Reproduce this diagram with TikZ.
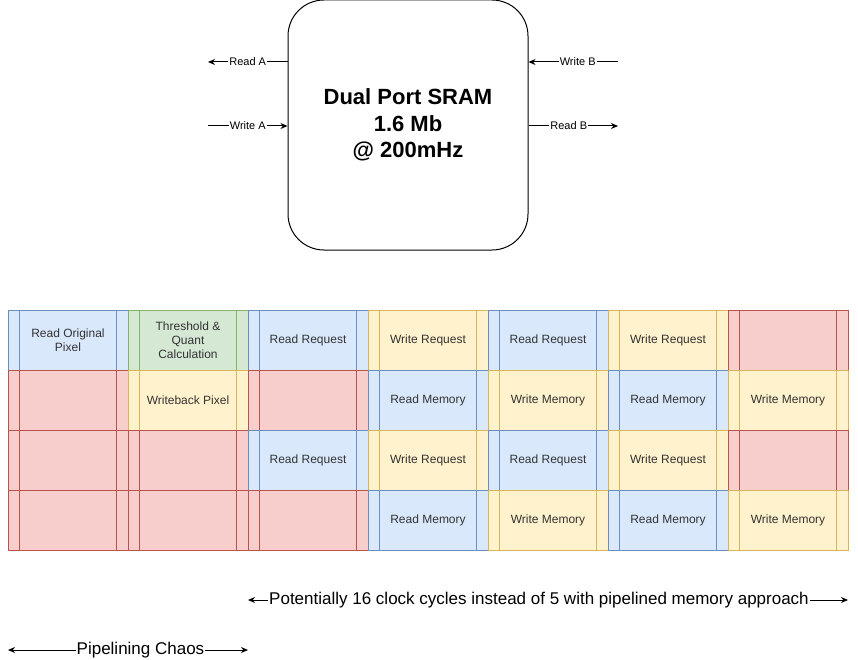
\documentclass[tikz,border=0pt]{standalone}
\usepackage{fontspec}
\setmainfont{Liberation Sans}
\usetikzlibrary{arrows.meta}
\definecolor{bfill}{HTML}{DAE8FC}\definecolor{bdraw}{HTML}{6C8EBF}
\definecolor{gfill}{HTML}{D5E8D4}\definecolor{gdraw}{HTML}{82B366}
\definecolor{yfill}{HTML}{FFF2CC}\definecolor{ydraw}{HTML}{D6B656}
\definecolor{rfill}{HTML}{F8CECC}\definecolor{rdraw}{HTML}{B85450}
\definecolor{txt}{HTML}{333333}
\newcommand\pcell[5]{%
  \node[proc,fill=#4fill,draw=#4draw] (#1) at (#2,#3) {#5};
  \draw[draw=#4draw,line width=1pt] ([xshift=12pt]#1.north west) -- ([xshift=12pt]#1.south west)
    ([xshift=-12pt]#1.north east) -- ([xshift=-12pt]#1.south east);}
\begin{document}
\begin{tikzpicture}[x=1pt,y=-1pt,
  proc/.style={rectangle,line width=1pt,minimum width=120pt,minimum height=60pt,inner sep=0pt,align=center,font=\fontsize{12}{14}\selectfont,text=txt},
  arr/.style={line width=1pt,-{Stealth[length=7pt,width=6pt]}},
  arrb/.style={line width=1pt,{Stealth[length=7pt,width=6pt]}-{Stealth[length=7pt,width=6pt]}},
  elbl/.style={fill=white,inner sep=1pt,font=\fontsize{11}{13}\selectfont},
  blbl/.style={fill=white,inner sep=1pt,font=\fontsize{17}{20}\selectfont}]
\useasboundingbox (0,0) rectangle (858,660);
% SRAM
\node[draw,line width=1pt,rounded corners=36pt,minimum width=240pt,minimum height=250pt,align=center,
  font=\bfseries\fontsize{22}{26.5}\selectfont] (sram) at (408,125) {Dual Port SRAM\\1.6 Mb\\@ 200mHz};
\coordinate (ra) at (208,62);
\coordinate (wa) at (208,126);
\coordinate (wb) at (618,62);
\coordinate (rb) at (618,126);
\draw[arr] ([yshift=63pt]sram.west) -- node[elbl]{Read A} (ra);
\draw[arr] (wa) -- node[elbl]{Write A} ([yshift=-1pt]sram.west);
\draw[arr] (wb) -- node[elbl,pos=0.45]{Write B} ([yshift=63pt]sram.east);
\draw[arr] ([yshift=-1pt]sram.east) -- node[elbl,pos=0.45]{Read B} (rb);
% grid row 1
\pcell{a1}{68}{340}{b}{Read Original\\Pixel}
\pcell{b1}{188}{340}{g}{Threshold \&\\Quant\\Calculation}
\pcell{c1}{308}{340}{b}{Read Request}
\pcell{d1}{428}{340}{y}{Write Request}
\pcell{e1}{548}{340}{b}{Read Request}
\pcell{f1}{668}{340}{y}{Write Request}
\pcell{g1}{788}{340}{r}{}
% row 2
\pcell{a2}{68}{400}{r}{}
\pcell{b2}{188}{400}{y}{Writeback Pixel}
\pcell{c2}{308}{400}{r}{}
\pcell{d2}{428}{400}{b}{Read Memory}
\pcell{e2}{548}{400}{y}{Write Memory}
\pcell{f2}{668}{400}{b}{Read Memory}
\pcell{g2}{788}{400}{y}{Write Memory}
% row 3
\pcell{a3}{68}{460}{r}{}
\pcell{b3}{188}{460}{r}{}
\pcell{c3}{308}{460}{b}{Read Request}
\pcell{d3}{428}{460}{y}{Write Request}
\pcell{e3}{548}{460}{b}{Read Request}
\pcell{f3}{668}{460}{y}{Write Request}
\pcell{g3}{788}{460}{r}{}
% row 4
\pcell{a4}{68}{520}{r}{}
\pcell{b4}{188}{520}{r}{}
\pcell{c4}{308}{520}{r}{}
\pcell{d4}{428}{520}{b}{Read Memory}
\pcell{e4}{548}{520}{y}{Write Memory}
\pcell{f4}{668}{520}{b}{Read Memory}
\pcell{g4}{788}{520}{y}{Write Memory}
% bottom arrows
\coordinate (p1) at (248,600);
\coordinate (p2) at (848,600);
\coordinate (q1) at (8,650);
\coordinate (q2) at (248,650);
\draw[arrb] (p1) -- node[blbl,pos=0.485]{Potentially 16 clock cycles instead of 5 with pipelined memory approach} (p2);
\draw[arrb] (q1) -- node[blbl,pos=0.552]{Pipelining Chaos} (q2);
\end{tikzpicture}
\end{document}
